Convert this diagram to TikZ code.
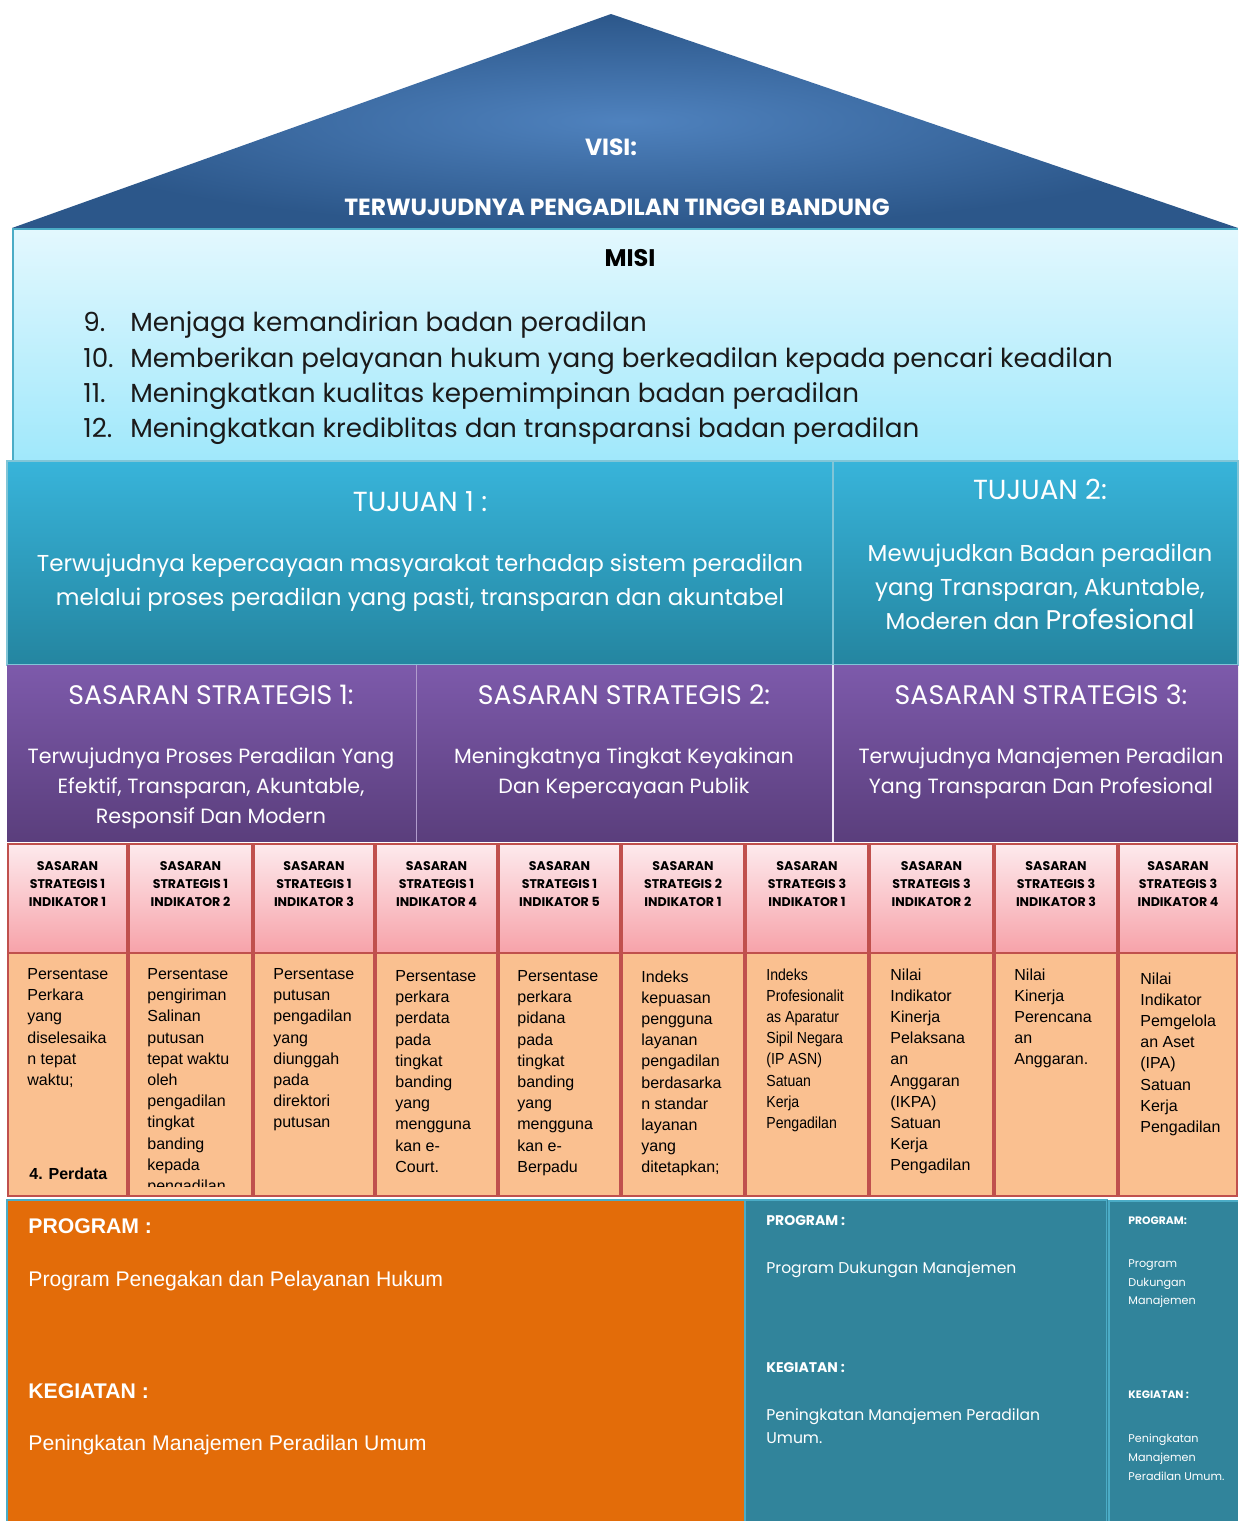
\documentclass[tikz,border=0pt]{standalone}
\usepackage{fontspec}
\setmainfont{Poppins}
\newfontfamily\arialf{Liberation Sans}
\definecolor{roofin}{HTML}{4F82BE}
\definecolor{roofout}{HTML}{2C578A}
\definecolor{misitop}{HTML}{E3F8FE}
\definecolor{misibot}{HTML}{A0E8FB}
\definecolor{tujtop}{HTML}{38B4DA}
\definecolor{tujbot}{HTML}{2485A0}
\definecolor{sastop}{HTML}{7D5AAB}
\definecolor{sasbot}{HTML}{5A3E7C}
\definecolor{pinktop}{HTML}{FDEAED}
\definecolor{pinkbot}{HTML}{F7A2A9}
\definecolor{redb}{HTML}{C0504D}
\definecolor{peach}{HTML}{FAC090}
\definecolor{orangep}{HTML}{E36C09}
\definecolor{tealp}{HTML}{31849B}
\definecolor{tealb}{HTML}{4BACC6}
\definecolor{misitxt}{HTML}{1A1A1A}
\tikzset{
  whitetxt/.style={text=white, inner sep=0pt},
  visitxt/.style={whitetxt, font=\bfseries\fontsize{11.7pt}{13pt}\selectfont},
  misiitem/.style={text=misitxt, inner sep=0pt, anchor=base west, font=\fontsize{13.1pt}{15pt}\selectfont},
  tujtitle/.style={whitetxt, font=\fontsize{13.8pt}{16pt}\selectfont},
  tujbody/.style={whitetxt, align=center, font=\fontsize{11.5pt}{17pt}\selectfont},
  sastitle/.style={whitetxt, font=\fontsize{13.4pt}{16pt}\selectfont},
  sasbody/.style={whitetxt, align=center, font=\fontsize{10.3pt}{15pt}\selectfont},
  hdrtxt/.style={inner sep=0pt, align=center, text=black, font=\bfseries\fontsize{6.3pt}{9.2pt}\selectfont},
  bodytxt/.style={inner sep=0pt, anchor=north west, align=left, text=black, font=\arialf\fontsize{8pt}{10.6pt}\selectfont},
  hdrbox/.style={top color=pinktop, bottom color=pinkbot, draw=redb, line width=1pt},
  bodybox/.style={fill=peach, draw=redb, line width=1pt},
  orangetxt/.style={whitetxt, anchor=west, font=\arialf\fontsize{10.6pt}{12pt}\selectfont},
  orangehd/.style={whitetxt, anchor=west, font=\arialf\bfseries\fontsize{10.6pt}{12pt}\selectfont},
  tealtxt/.style={whitetxt, anchor=north west, align=left, font=\fontsize{7.8pt}{11.5pt}\selectfont},
  tealhd/.style={whitetxt, anchor=west, font=\bfseries\fontsize{7pt}{9pt}\selectfont},
  smalltxt/.style={whitetxt, anchor=north west, align=left, font=\fontsize{5.6pt}{9.4pt}\selectfont},
  smallhd/.style={whitetxt, anchor=west, font=\bfseries\fontsize{5.4pt}{7pt}\selectfont},
}
\begin{document}
\begin{tikzpicture}[x=0.5pt,y=-0.5pt]
\useasboundingbox (0,0) rectangle (1238,1521);
\fill[white] (0,0) rectangle (1238,1521);
% ---------- roof
\shade[inner color=roofin, outer color=roofout] (12,228) -- (611,14) -- (1238,228) -- cycle;
\node[visitxt] (visi) at (611,147) {VISI:};
\node[visitxt] (visitext) at (617,207) {TERWUJUDNYA PENGADILAN TINGGI BANDUNG};
% ---------- misi
\shade[top color=misitop, bottom color=misibot] (13,229) rectangle (1238,461);
\draw[tealb, line width=1pt] (13,461) -- (13,229) -- (1238,229);
\node[inner sep=0pt, text=black, font=\bfseries\fontsize{12pt}{14pt}\selectfont] (misi) at (630,258) {MISI};
\node[misiitem] (n9) at (83,331) {9.};
\node[misiitem] (m9) at (130,331) {Menjaga kemandirian badan peradilan};
\node[misiitem] (n10) at (83,367) {10.};
\node[misiitem] (m10) at (130,367) {Memberikan pelayanan hukum yang berkeadilan kepada pencari keadilan};
\node[misiitem] (n11) at (83,402) {11.};
\node[misiitem] (m11) at (130,402) {Meningkatkan kualitas kepemimpinan badan peradilan};
\node[misiitem] (n12) at (83,437) {12.};
\node[misiitem] (m12) at (130,437) {Meningkatkan krediblitas dan transparansi badan peradilan};
% ---------- tujuan
\shade[top color=tujtop, bottom color=tujbot] (7,461) rectangle (833,665);
\shade[top color=tujtop, bottom color=tujbot] (833,461) rectangle (1238,665);
\draw[tealb!70!white, line width=0.8pt] (7,461) rectangle (833,665);
\draw[tealb!70!white, line width=0.8pt] (833,461) rectangle (1238,665);
\node[tujtitle] (t1) at (420,502) {TUJUAN 1 :};
\node[tujbody] (t1b) at (420,583) {Terwujudnya kepercayaan masyarakat terhadap sistem peradilan\\melalui proses peradilan yang pasti, transparan dan akuntabel};
\node[tujtitle] (t2) at (1040,489) {TUJUAN 2:};
\node[tujbody] (t2b) at (1040,587) {Mewujudkan Badan peradilan\\yang Transparan, Akuntable,\\Moderen dan {\fontsize{13.5pt}{17pt}\selectfont Profesional}};
% ---------- sasaran
\shade[top color=sastop, bottom color=sasbot] (7,665) rectangle (416,842);
\shade[top color=sastop, bottom color=sasbot] (416,665) rectangle (833,842);
\shade[top color=sastop, bottom color=sasbot] (833,665) rectangle (1238,842);
\draw[sastop!60!white, line width=0.5pt] (416,665) -- (416,842);
\draw[white!85!sastop, line width=1pt] (833,665) -- (833,842);
\node[sastitle] (s1) at (211,695) {SASARAN STRATEGIS 1:};
\node[sasbody] (s1b) at (211,788) {Terwujudnya Proses Peradilan Yang\\Efektif, Transparan, Akuntable,\\Responsif Dan Modern};
\node[sastitle] (s2) at (624,695) {SASARAN STRATEGIS 2:};
\node[sasbody] (s2b) at (624,773) {Meningkatnya Tingkat Keyakinan\\Dan Kepercayaan Publik};
\node[sastitle] (s3) at (1041,695) {SASARAN STRATEGIS 3:};
\node[sasbody] (s3b) at (1041,773) {Terwujudnya Manajemen Peradilan\\Yang Transparan Dan Profesional};
% ---------- indicator headers and bodies
\foreach \xl/\xr/\ss/\ind [count=\i] in {7/128/1/1, 128/253/1/2, 253/375/1/3, 375/498/1/4, 498/621/1/5, 621/745/2/1, 745/869/3/1, 869/994/3/2, 994/1118/3/3, 1118/1238/3/4}{
  \fill[white] (\xl,842) rectangle (\xr,1200);
  \path[hdrbox] (\xl+1,844) rectangle (\xr-1,953);
  \path[bodybox] (\xl+1,953) rectangle (\xr-1,1196);
  \node[hdrtxt] (h\i) at ({(\xl+\xr)/2},884) {SASARAN\\STRATEGIS \ss\\INDIKATOR \ind};
}
\node[bodytxt] (b1) at (27,968) {Persentase\\Perkara\\yang\\diselesaika\\n tepat\\waktu;};
\node[bodytxt, font=\arialf\bfseries\fontsize{8pt}{10pt}\selectfont, anchor=west] (b1x) at (29,1174) {4. Perdata};
\begin{scope}
\clip (128,953) rectangle (253,1186);
\node[bodytxt] (b2) at (147,968) {Persentase\\pengiriman\\Salinan\\putusan\\tepat waktu\\oleh\\pengadilan\\tingkat\\banding\\kepada\\pengadilan};
\end{scope}
\node[bodytxt] (b3) at (273,968) {Persentase\\putusan\\pengadilan\\yang\\diunggah\\pada\\direktori\\putusan};
\node[bodytxt] (b4) at (395,970) {Persentase\\perkara\\perdata\\pada\\tingkat\\banding\\yang\\mengguna\\kan e-\\Court.};
\node[bodytxt] (b5) at (517,970) {Persentase\\perkara\\pidana\\pada\\tingkat\\banding\\yang\\mengguna\\kan e-\\Berpadu};
\node[bodytxt] (b6) at (641,970) {Indeks\\kepuasan\\pengguna\\layanan\\pengadilan\\berdasarka\\n standar\\layanan\\yang\\ditetapkan;};
\node[bodytxt, font=\arialf\addfontfeatures{FakeStretch=0.88}\fontsize{8pt}{10.6pt}\selectfont] (b7) at (766,968) {Indeks\\Profesionalit\\as Aparatur\\Sipil Negara\\(IP ASN)\\Satuan\\Kerja\\Pengadilan};
\node[bodytxt] (b8) at (890,968) {Nilai\\Indikator\\Kinerja\\Pelaksana\\an\\Anggaran\\(IKPA)\\Satuan\\Kerja\\Pengadilan};
\node[bodytxt] (b9) at (1014,968) {Nilai\\Kinerja\\Perencana\\an\\Anggaran.};
\node[bodytxt] (b10) at (1140,972) {Nilai\\Indikator\\Pemgelola\\an Aset\\(IPA)\\Satuan\\Kerja\\Pengadilan};
% ---------- bottom panels
\fill[orangep] (7,1200) rectangle (745,1521);
\draw[tealb, line width=1pt] (7,1521) -- (7,1200) -- (745,1200);
\fill[tealp] (745,1200) rectangle (1107,1521);
\draw[tealb, line width=1.2pt] (745,1521) -- (745,1200) -- (1107,1200) -- (1107,1521);
\fill[tealp] (1107,1200) rectangle (1238,1521);
\draw[tealb, line width=1.2pt] (1109,1521) -- (1109,1201) -- (1238,1201);
\node[orangehd] (op) at (28,1226) {PROGRAM :};
\node[orangetxt] (opt) at (28,1281) {Program Penegakan dan Pelayanan Hukum};
\node[orangehd] (ok) at (28,1391) {KEGIATAN :};
\node[orangetxt] (okt) at (28,1445) {Peningkatan Manajemen Peradilan Umum};
\node[tealhd] (tp) at (766,1221) {PROGRAM :};
\node[tealtxt] (tpt) at (766,1261) {Program Dukungan Manajemen};
\node[tealhd] (tk) at (766,1368) {KEGIATAN :};
\node[tealtxt] (tkt) at (766,1408) {Peningkatan Manajemen Peradilan\\Umum.};
\node[smallhd] (rp) at (1128,1221) {PROGRAM:};
\node[smalltxt] (rpt) at (1128,1259) {Program\\Dukungan\\Manajemen};
\node[smallhd] (rk) at (1128,1395) {KEGIATAN :};
\node[smalltxt] (rkt) at (1128,1434) {Peningkatan\\Manajemen\\Peradilan Umum.};
\end{tikzpicture}
\end{document}
